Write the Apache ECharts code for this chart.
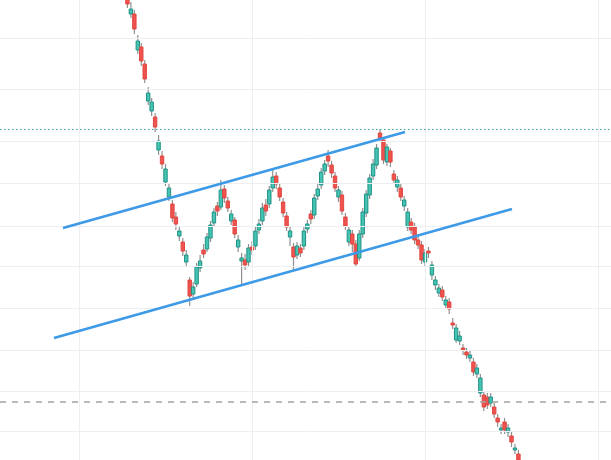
<!DOCTYPE html>
<html><head><meta charset="utf-8">
<script src="https://cdn.jsdelivr.net/npm/echarts@6/dist/echarts.min.js"></script>
<style>html,body{margin:0;padding:0;background:#fff}#c{width:611px;height:460px}</style>
</head><body><div id="c"></div>
<script>
// bar index of the first visible candle
const startIndex = 14;
// [open, close, low, high]
const ohlc = [
  [147.0,145.6,145.2,147.5],[144.6,145.1,144.2,145.8],[144.6,143.1,142.6,145.0],[141.0,141.9,140.6,142.5],
  [141.3,139.9,139.4,141.7],[139.6,138.1,137.7,140.0],[135.9,136.7,135.5,137.3],[134.9,135.8,134.4,136.2],
  [134.3,133.3,132.8,134.7],[131.0,131.9,130.5,132.5],[130.4,129.6,129.1,130.9],[127.8,129.1,127.4,129.6],
  [126.3,127.2,125.9,127.7],[125.6,124.2,123.8,126.0],[124.3,123.6,123.0,124.8],[122.4,122.9,121.9,123.3],
  [121.8,120.9,120.4,122.2],[119.8,120.5,119.3,121.0],[118.0,116.4,115.4,118.3],[116.6,117.3,116.1,117.8],
  [117.6,119.3,117.3,119.7],[119.2,119.9,118.8,120.5],[121.0,120.6,120.2,121.6],[121.1,122.3,120.8,122.7],
  [122.2,123.5,121.8,123.9],[123.7,124.8,123.3,125.2],[125.4,124.9,124.4,125.8],[125.3,127.0,125.0,128.0],
  [127.1,126.2,125.7,127.5],[125.9,125.2,124.8,126.3],[123.9,124.6,123.5,125.0],[124.0,122.6,122.2,124.3],
  [121.3,122.0,120.8,122.5],[119.9,120.2,117.5,120.7],[120.0,119.5,119.0,120.6],[119.8,121.2,119.4,121.6],
  [121.3,121.0,120.5,121.9],[121.4,122.9,121.0,123.3],[123.0,123.6,122.6,124.1],[123.9,125.2,123.5,125.7],
  [125.5,124.9,124.4,126.1],[125.6,127.0,125.2,127.4],[127.2,128.3,126.8,129.0],[128.4,127.6,127.1,128.8],
  [127.2,126.3,125.9,127.6],[125.8,124.7,124.3,126.2],[124.4,123.3,122.9,124.8],[122.3,122.9,121.4,123.3],
  [121.3,120.3,119.0,121.7],[120.5,121.4,120.1,121.8],[121.2,120.7,120.3,121.6],[121.4,122.9,121.0,123.4],
  [123.1,123.6,122.7,124.0],[124.6,124.1,123.6,125.0],[124.5,126.2,124.1,126.6],[126.4,127.1,126.0,127.6],
  [127.5,128.8,127.1,129.2],[128.9,129.6,128.5,130.0],[130.4,129.9,129.3,131.0],[129.5,128.7,128.2,129.9],
  [128.4,127.2,126.8,128.8],[126.3,127.0,125.8,127.4],[126.5,124.9,124.5,126.9],[124.3,123.4,123.0,124.7],
  [121.8,123.0,121.4,123.4],[122.6,121.6,120.8,123.0],[121.6,119.6,119.3,122.0],[120.2,122.6,119.9,123.0],
  [122.6,124.8,122.2,125.2],[124.7,126.6,124.3,127.0],[126.5,128.2,126.1,128.6],[128.4,129.6,128.0,130.1],
  [129.5,131.2,129.1,131.6],[132.7,132.2,131.8,133.1],[132.0,130.0,129.6,132.3],[129.8,131.3,129.4,131.6],
  [130.9,129.8,129.3,131.2],[128.6,128.0,127.6,129.0],[127.3,128.0,126.8,128.4],[127.2,126.3,125.9,127.6],
  [125.4,126.0,124.9,126.4],[123.3,124.8,122.9,125.2],[123.8,123.0,122.6,124.2],[123.3,122.0,121.6,123.7],
  [122.0,121.5,121.1,122.4],[121.5,120.0,119.6,121.9],[119.8,120.7,119.4,121.1],[120.9,120.7,120.2,121.3],
  [118.5,119.5,118.0,119.9],[117.5,118.0,117.0,118.4],[116.7,117.2,116.3,117.6],[117.0,116.3,115.9,117.4],
  [115.5,116.0,115.1,116.4],[115.8,115.1,114.6,116.2],[113.7,113.5,113.1,114.2],[112.0,113.2,111.7,113.6],
  [111.9,112.4,111.5,112.9],[111.2,111.0,110.5,111.6],[110.8,110.5,110.1,111.2],[110.2,110.5,109.8,110.9],
  [109.8,108.8,108.4,110.2],[108.6,109.2,108.2,109.6],[106.7,108.2,106.3,108.6],[106.5,105.3,104.9,106.9],
  [106.3,105.5,105.1,106.7],[105.7,106.3,105.3,106.7],[105.3,104.6,104.2,105.7],[104.2,103.8,103.3,104.6],
  [103.0,103.2,102.6,103.6],[103.8,103.0,102.6,104.2],[102.8,103.2,102.3,103.6],[102.4,101.8,101.3,102.8],
  [101.0,101.2,100.6,101.6],[100.6,100.0,99.5,101.0],[99.6,99.0,98.6,100.0]
];
const xGridTicks = [0, 50, 100, 150];
const yGridTicks = [142.2, 137.1, 131.9, 127.7, 123.4, 119.4, 115.2, 111.0, 106.9, 102.9];
const resistanceLevel = 133.1;
const supportLevel = 105.8;
const upperChannel = [[-4.62, 123.2], [94.22, 132.8]];
const lowerChannel = [[-7.23, 112.2], [125.14, 125.1]];

const candleData = ohlc.map((r, i) => [startIndex + i, r[0], r[1], r[2], r[3]]);

const chart = echarts.init(document.getElementById('c'), null, {renderer: 'canvas'});
const gridLines = xGridTicks.map(v => ({xAxis: v})).concat(yGridTicks.map(v => ({yAxis: v})));

chart.setOption({
  animation: false,
  backgroundColor: '#ffffff',
  grid: {left: 0, right: 0, top: 0, bottom: 0},
  xAxis: {type: 'value', min: -22.83, max: 153.76, show: false},
  yAxis: {type: 'value', min: 100, max: 146, show: false},
  series: [
    {
      type: 'line', data: [], z: 0, silent: true,
      markLine: {
        silent: true, symbol: ['none', 'none'], animation: false,
        label: {show: false},
        lineStyle: {color: '#eceef2', width: 1, type: 'solid'},
        data: gridLines
      }
    },
    {
      type: 'line', data: [], z: 1, silent: true,
      markLine: {
        silent: true, symbol: ['none', 'none'], animation: false,
        label: {show: false},
        data: [
          {yAxis: resistanceLevel, lineStyle: {color: '#2fa69c', width: 1, type: [1.5, 2.5]}},
          {yAxis: supportLevel, lineStyle: {color: '#a3a3a3', width: 1.5, type: [6, 6]}}
        ]
      }
    },
    {
      type: 'custom', z: 3,
      data: candleData,
      encode: {x: 0, y: [1, 2, 3, 4]},
      renderItem: function (params, api) {
        const x = api.value(0), o = api.value(1), c = api.value(2), l = api.value(3), h = api.value(4);
        const pO = api.coord([x, o]), pC = api.coord([x, c]), pL = api.coord([x, l]), pH = api.coord([x, h]);
        const up = c >= o;
        const w = 3.4;
        const top = Math.min(pO[1], pC[1]);
        const ht = Math.max(Math.abs(pO[1] - pC[1]), 1.5);
        return {type: 'group', children: [
          {type: 'line', shape: {x1: pL[0], y1: pL[1], x2: pH[0], y2: pH[1]}, style: {stroke: '#909090', lineWidth: 1.2}},
          {type: 'rect', shape: {x: pO[0] - w / 2, y: top, width: w, height: ht},
           style: {fill: up ? '#45c4b3' : '#ef5350', stroke: up ? '#1f9184' : '#e2463f', lineWidth: 1}}
        ]};
      }
    },
    {
      type: 'line', z: 5, data: upperChannel, symbol: 'none', silent: true,
      lineStyle: {color: '#3d9ae6', width: 2.5}
    },
    {
      type: 'line', z: 5, data: lowerChannel, symbol: 'none', silent: true,
      lineStyle: {color: '#3d9ae6', width: 2.5}
    }
  ]
});
</script>
</body></html>
